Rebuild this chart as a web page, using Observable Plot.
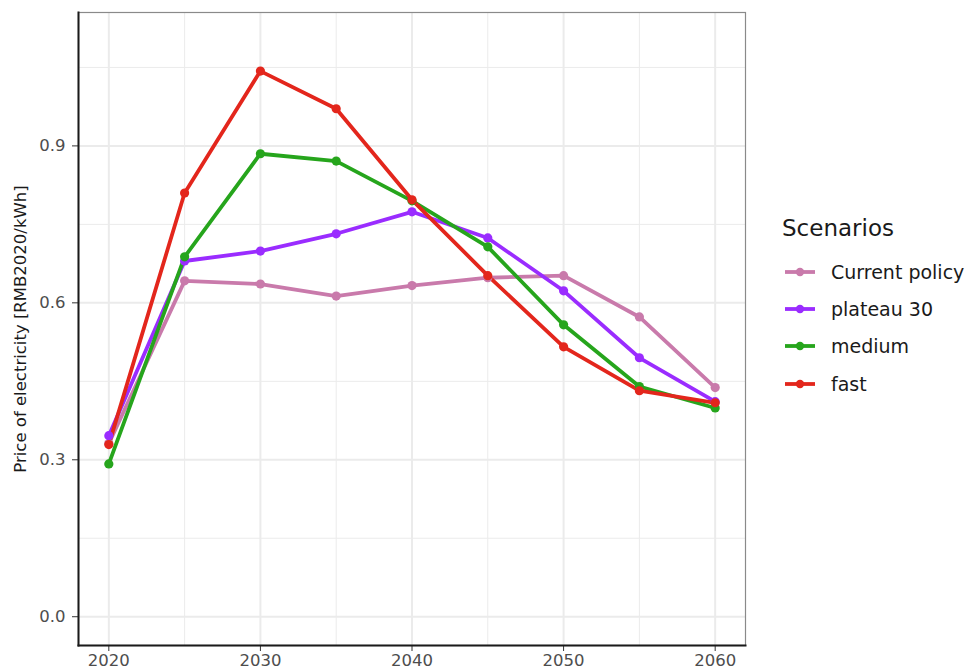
<!DOCTYPE html>
<html>
<head>
<meta charset="utf-8">
<script src="https://cdn.jsdelivr.net/npm/d3@7"></script>
<script src="https://cdn.jsdelivr.net/npm/@observablehq/plot@0.6"></script>
<style>
  html, body { margin: 0; padding: 0; background: #fff; }
  #wrap { position: relative; width: 968px; height: 670px; font-family: "DejaVu Sans", sans-serif; }
  #legend { position: absolute; left: 782px; top: 213px; color: #1a1a1a; }
  #legend .title { font-size: 23px; line-height: 30px; margin-bottom: 10px; }
  #legend .item { display: flex; align-items: center; height: 37.3px; font-size: 19px; }
  #legend svg { margin-right: 16px; margin-left: 3px; }
  g[aria-label="y-axis label"] text { fill: #1a1a1a; font-size: 16.5px; }
  g[aria-label="x-axis tick label"] text, g[aria-label="y-axis tick label"] text { font-size: 16.5px; }
</style>
</head>
<body>
<div id="wrap"><div id="chart"></div><div id="legend"></div></div>
<script>
const years = [2020, 2025, 2030, 2035, 2040, 2045, 2050, 2055, 2060];
const scenarios = ["Current policy", "plateau 30", "medium", "fast"];
const colors = ["#c97aab", "#9a2cff", "#26a51c", "#e3261c"];
const currentPolicy = [0.331, 0.642, 0.636, 0.613, 0.633, 0.648, 0.652, 0.573, 0.438];
const plateau30     = [0.346, 0.680, 0.699, 0.732, 0.774, 0.724, 0.623, 0.495, 0.411];
const medium        = [0.292, 0.688, 0.885, 0.871, 0.795, 0.707, 0.558, 0.440, 0.399];
const fast          = [0.329, 0.810, 1.043, 0.971, 0.797, 0.652, 0.516, 0.432, 0.409];
const xMajor = [2020, 2030, 2040, 2050, 2060];
const xMinor = [2025, 2035, 2045, 2055];
const yMajor = [0, 0.3, 0.6, 0.9];
const yMinor = [0.15, 0.45, 0.75, 1.05];

const series = [currentPolicy, plateau30, medium, fast];
const data = [];
scenarios.forEach((s, i) => years.forEach((yr, j) => data.push({scenario: s, year: yr, price: series[i][j]})));

const chart = Plot.plot({
  width: 968,
  height: 670,
  marginLeft: 78,
  marginRight: 223,
  marginTop: 12,
  marginBottom: 25,
  style: {fontFamily: "DejaVu Sans, sans-serif", fontSize: "16.5px", background: "#fff"},
  x: {domain: [2018, 2062]},
  y: {domain: [-0.055, 1.155]},
  color: {domain: scenarios, range: colors},
  marks: [
    Plot.gridX(xMinor, {stroke: "#ebebeb", strokeOpacity: 1, strokeWidth: 1}),
    Plot.gridY(yMinor, {stroke: "#ebebeb", strokeOpacity: 1, strokeWidth: 1}),
    Plot.gridX(xMajor, {stroke: "#ebebeb", strokeOpacity: 1, strokeWidth: 2}),
    Plot.gridY(yMajor, {stroke: "#ebebeb", strokeOpacity: 1, strokeWidth: 2}),
    Plot.frame({stroke: "#8a8a8a", strokeWidth: 1.2}),
    Plot.axisX({ticks: xMajor, tickFormat: d => String(d), tickSize: 6, tickPadding: 3, label: null, color: "#4d4d4d", stroke: "#333", fontSize: 16.5}),
    Plot.axisY({ticks: yMajor, tickFormat: d => d.toFixed(1), tickSize: 6, tickPadding: 7, color: "#4d4d4d", stroke: "#333", fontSize: 16.5,
      label: "Price of electricity [RMB2020/kWh]", labelAnchor: "center", labelArrow: "none", labelOffset: 64}),
    Plot.frame({anchor: "left", stroke: "#1a1a1a", strokeWidth: 2}),
    Plot.frame({anchor: "bottom", stroke: "#1a1a1a", strokeWidth: 2}),
    Plot.line(data, {x: "year", y: "price", stroke: "scenario", z: "scenario", strokeWidth: 3.8, strokeLinejoin: "round"}),
    Plot.dot(data, {x: "year", y: "price", fill: "scenario", r: 4.6})
  ]
});
document.getElementById("chart").appendChild(chart);

const legend = document.getElementById("legend");
const title = document.createElement("div");
title.className = "title";
title.textContent = "Scenarios";
legend.appendChild(title);
scenarios.forEach((s, i) => {
  const item = document.createElement("div");
  item.className = "item";
  const sw = d3.create("svg").attr("width", 30).attr("height", 12);
  sw.append("line").attr("x1", 0).attr("x2", 30).attr("y1", 6).attr("y2", 6).attr("stroke", colors[i]).attr("stroke-width", 3.8);
  sw.append("circle").attr("cx", 15).attr("cy", 6).attr("r", 4.2).attr("fill", colors[i]);
  item.appendChild(sw.node());
  const t = document.createElement("span");
  t.textContent = s;
  item.appendChild(t);
  legend.appendChild(item);
});
</script>
</body>
</html>
